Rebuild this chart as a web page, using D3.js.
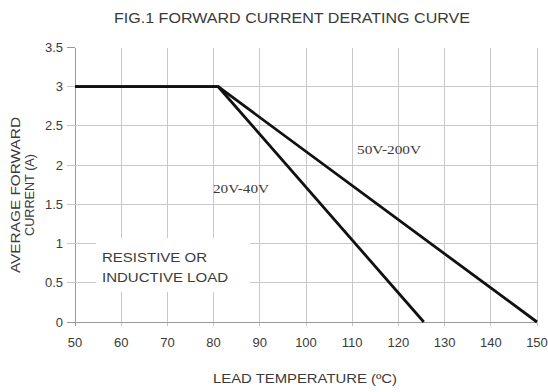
<!DOCTYPE html>
<html><head><meta charset="utf-8">
<script src="https://cdn.jsdelivr.net/npm/d3@7"></script>
<style>body{margin:0;background:#fff}svg{display:block}</style>
</head><body>
<svg id="c" width="548" height="392"></svg>
<script>
const xTicks = [50,60,70,80,90,100,110,120,130,140,150];
const yTicks = [0,0.5,1,1.5,2,2.5,3,3.5];
const temp2040 = [50, 81, 125.5];
const curr2040 = [3, 3, 0];
const temp50200 = [50, 81, 150];
const curr50200 = [3, 3, 0];

const svg = d3.select('#c');
const x = d3.scaleLinear().domain([50,150]).range([75,537]);
const y = d3.scaleLinear().domain([0,3.5]).range([322,47.5]);
const txt = '#3a3a3a';
const font = 'Liberation Sans, Arial, sans-serif';

// grid
svg.append('g').selectAll('line').data(xTicks).join('line')
  .attr('x1',d=>x(d)).attr('x2',d=>x(d)).attr('y1',y(3.5)).attr('y2',y(0)+4)
  .attr('stroke',d=>d===50?'#9a9a9a':'#c8c8c8').attr('stroke-width',1).attr('shape-rendering','crispEdges');
svg.append('g').selectAll('line').data(yTicks.filter(d=>d<3.5)).join('line')
  .attr('x1',x(50)-8).attr('x2',x(150)).attr('y1',d=>y(d)).attr('y2',d=>y(d))
  .attr('stroke',d=>d===0?'#9a9a9a':'#c8c8c8').attr('stroke-width',1).attr('shape-rendering','crispEdges');
svg.append('line').attr('x1',x(50)-8).attr('x2',x(50)).attr('y1',y(3.5)).attr('y2',y(3.5))
  .attr('stroke','#9a9a9a').attr('shape-rendering','crispEdges');

// white box behind annotation
svg.append('rect').attr('x',96).attr('y',238).attr('width',154).attr('height',54).attr('fill','#fff');

// axis tick labels
svg.append('g').selectAll('text').data(xTicks).join('text')
  .attr('x',d=>x(d)).attr('y',347).attr('text-anchor','middle')
  .attr('font-family',font).attr('font-size',13).attr('fill',txt).text(d=>d);
svg.append('g').selectAll('text').data(yTicks).join('text')
  .attr('x',63).attr('y',d=>y(d)+4.5).attr('text-anchor','end')
  .attr('font-family',font).attr('font-size',13).attr('fill',txt).text(d=>d);

// lines
const line = d3.line().x(d=>x(d[0])).y(d=>y(d[1]));
svg.append('path').datum(temp2040.map((t,i)=>[t,curr2040[i]])).attr('d',line)
  .attr('fill','none').attr('stroke','#111').attr('stroke-width',2.8).attr('stroke-linejoin','round');
svg.append('path').datum(temp50200.map((t,i)=>[t,curr50200[i]])).attr('d',line)
  .attr('fill','none').attr('stroke','#111').attr('stroke-width',2.8).attr('stroke-linejoin','round');

// title
svg.append('text').attr('x',292).attr('y',23).attr('text-anchor','middle')
  .attr('font-family',font).attr('font-size',14.5).attr('fill',txt)
  .attr('textLength',356).attr('lengthAdjust','spacingAndGlyphs')
  .text('FIG.1 FORWARD CURRENT DERATING CURVE');

// x label
svg.append('text').attr('x',305).attr('y',383).attr('text-anchor','middle')
  .attr('font-family',font).attr('font-size',13.5).attr('fill',txt)
  .attr('textLength',184).attr('lengthAdjust','spacingAndGlyphs')
  .text('LEAD TEMPERATURE (ºC)');

// y label
const yl = svg.append('text').attr('transform','translate(0,195) rotate(-90)')
  .attr('text-anchor','middle').attr('font-family',font).attr('font-size',13.5).attr('fill',txt);
yl.append('tspan').attr('x',0).attr('y',20).attr('textLength',156).attr('lengthAdjust','spacingAndGlyphs').text('AVERAGE FORWARD');
yl.append('tspan').attr('x',0).attr('y',34).attr('textLength',82).attr('lengthAdjust','spacingAndGlyphs').text('CURRENT (A)');

// annotations
const serif = 'Liberation Serif, Times New Roman, serif';
svg.append('text').attr('x',357).attr('y',154).attr('font-family',serif).attr('font-size',13)
  .attr('fill',txt).attr('textLength',64).attr('lengthAdjust','spacingAndGlyphs').text('50V-200V');
svg.append('text').attr('x',213).attr('y',193).attr('font-family',serif).attr('font-size',13)
  .attr('fill',txt).attr('textLength',56).attr('lengthAdjust','spacingAndGlyphs').text('20V-40V');
svg.append('text').attr('x',102).attr('y',262).attr('font-family',font).attr('font-size',13)
  .attr('fill',txt).attr('textLength',105).attr('lengthAdjust','spacingAndGlyphs').text('RESISTIVE OR');
svg.append('text').attr('x',102).attr('y',282).attr('font-family',font).attr('font-size',13)
  .attr('fill',txt).attr('textLength',126).attr('lengthAdjust','spacingAndGlyphs').text('INDUCTIVE LOAD');
</script>
</body></html>
